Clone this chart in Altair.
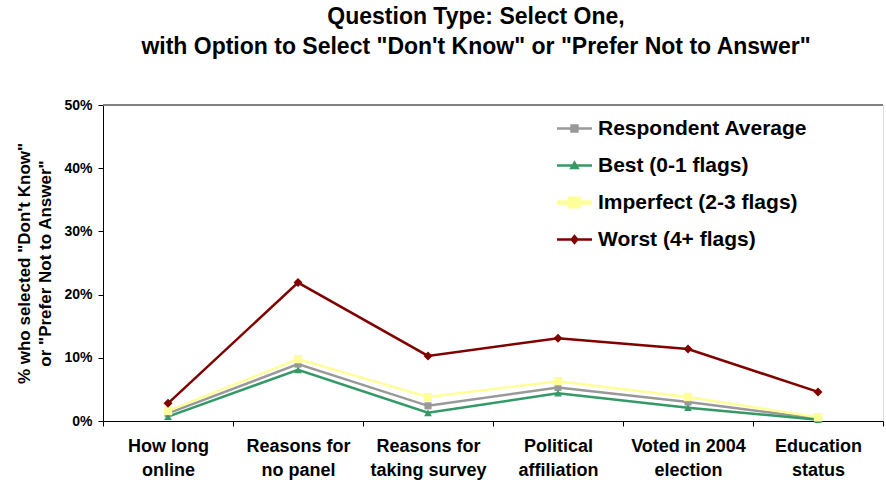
import altair as alt
import pandas as pd

categories = ["How long\nonline", "Reasons for\nno panel", "Reasons for\ntaking survey",
              "Political\naffiliation", "Voted in 2004\nelection", "Education\nstatus"]
series_names = ["Respondent Average", "Best (0-1 flags)", "Imperfect (2-3 flags)", "Worst (4+ flags)"]
avg_vals = [0.012, 0.090, 0.024, 0.053, 0.030, 0.004]
best_vals = [0.007, 0.081, 0.013, 0.044, 0.021, 0.002]
imperfect_vals = [0.016, 0.098, 0.038, 0.063, 0.038, 0.006]
worst_vals = [0.028, 0.219, 0.103, 0.131, 0.114, 0.046]

colors = ["#999999", "#339966", "#FFFF99", "#800000"]
marker_shapes = ["square", "triangle-up", "square", "diamond"]
legend_shapes = [
    "M-1,-0.07H1V0.07H-1Z M-0.24,-0.24H0.24V0.24H-0.24Z",
    "M-1,-0.07H1V0.07H-1Z M0,-0.3L0.3,0.22H-0.3Z",
    "M-1,-0.13H1V0.13H-1Z M-0.38,-0.34H0.38V0.34H-0.38Z",
    "M-1,-0.07H1V0.07H-1Z M0,-0.3L0.25,0L0,0.3L-0.25,0Z",
]

rows = []
for name, vals in zip(series_names, [avg_vals, best_vals, imperfect_vals, worst_vals]):
    for c, v in zip(categories, vals):
        rows.append({"series": name, "category": c, "value": v})
df = pd.DataFrame(rows)

FONT = "Liberation Sans"

x_enc = alt.X("category:N", sort=categories,
              scale=alt.Scale(type="band", paddingInner=0, paddingOuter=0),
              axis=alt.Axis(title=None, labelAngle=0, labelFont=FONT, labelFontSize=18,
                            labelFontWeight="bold", labelColor="black",
                            labelExpr="isValid(datum.value) ? split(datum.value, '\\n') : ''",
                            labelLineHeight=24, labelPadding=11, tickBand="extent",
                            tickColor="black", tickSize=5, domainColor="black", grid=False))
y_enc = alt.Y("value:Q",
              scale=alt.Scale(domain=[0, 0.5], nice=False),
              axis=alt.Axis(format=".0%", values=[0, 0.1, 0.2, 0.3, 0.4, 0.5],
                            title=["% who selected \"Don't Know\"", "or \"Prefer Not to Answer\""],
                            titleFont=FONT, titleFontSize=17, titleFontWeight="bold",
                            titleColor="black", titleLineHeight=21, titleX=-70, titleY=158,
                            labelFont=FONT, labelFontSize=14, labelFontWeight="bold",
                            labelColor="black", labelPadding=6, tickColor="black",
                            tickSize=5, domainColor="black", grid=False))

color_scale = alt.Scale(domain=series_names, range=colors)

top_rule = alt.Chart(df).mark_rule(color="#808080", strokeWidth=1).encode(y=alt.datum(0.5))

lines = alt.Chart(df).mark_line().encode(
    x=x_enc, y=y_enc,
    color=alt.Color("series:N", scale=color_scale, legend=None),
    strokeWidth=alt.StrokeWidth("series:N", scale=alt.Scale(domain=series_names, range=[2.5, 2.5, 4.5, 2.5]), legend=None),
    order=alt.Order("series:N"),
)

points = alt.Chart(df).mark_point(filled=True, opacity=1).encode(
    x=x_enc, y=y_enc,
    color=alt.Color("series:N", scale=color_scale, legend=None),
    shape=alt.Shape("series:N", scale=alt.Scale(domain=series_names, range=marker_shapes), legend=None),
    size=alt.Size("series:N", scale=alt.Scale(domain=series_names, range=[50, 80, 170, 90]), legend=None),
)

legend_props = dict(title=None, orient="none", legendX=454, legendY=6,
                    labelFont=FONT, labelFontSize=21, labelFontWeight="bold",
                    labelColor="black", labelOffset=6, symbolSize=1225,
                    symbolOpacity=1, symbolStrokeWidth=0, rowPadding=9,
                    padding=0, labelLimit=400)

legend_layer = alt.Chart(df).mark_point(filled=True, opacity=0).encode(
    x=x_enc, y=y_enc,
    color=alt.Color("series:N", scale=color_scale, legend=alt.Legend(**legend_props)),
    shape=alt.Shape("series:N", scale=alt.Scale(domain=series_names, range=legend_shapes),
                    legend=alt.Legend(**legend_props)),
)

chart = alt.layer(top_rule, lines, points, legend_layer).resolve_scale(
    color="independent", shape="independent", size="independent", strokeWidth="independent"
).properties(
    width=780, height=316,
    title=alt.TitleParams(
        text=["Question Type: Select One,", "with Option to Select \"Don't Know\" or \"Prefer Not to Answer\""],
        font=FONT, fontSize=23, fontWeight="bold", color="black", anchor="middle",
        frame="group", dx=-17, offset=39, lineHeight=30),
    autosize=alt.AutoSizeParams(type="none"),
    padding={"left": 103, "top": 105, "right": 3, "bottom": 59},
).configure_view(stroke=None).configure(background="white")

chart.save("out.html", embed_options={"renderer": "svg", "actions": False})
